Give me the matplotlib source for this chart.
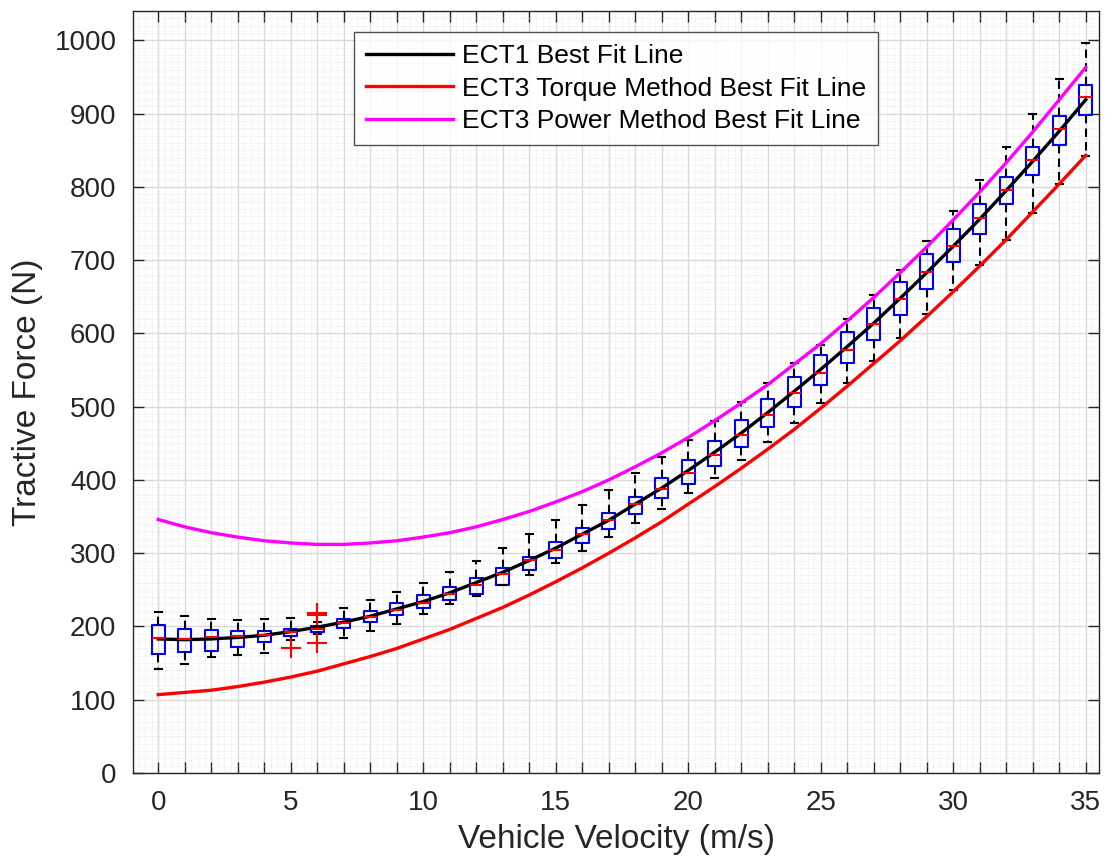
import matplotlib
matplotlib.use("Agg")
import matplotlib.pyplot as plt
import matplotlib.ticker as ticker
import numpy as np

plt.rcParams['font.family'] = ['Liberation Sans', 'DejaVu Sans']

# velocity bins (m/s)
velocity = list(range(36))

# box statistics (N)
whis_lo = [142, 149, 158, 161, 164, 181, 190, 184.5, 194, 204, 216.5, 230.5,
           242, 256, 270, 287, 303, 321.5, 340.6, 360, 381.6, 403, 427, 452,
           478, 505, 532.5, 562.5, 594.4, 626, 659, 693, 727, 765, 804.5, 841.7]
q1 = [163, 165, 167, 172, 179, 187, 193, 198, 206.5, 215.5, 224.7, 236,
      244, 257, 277, 293.7, 313.3, 332.4, 353, 374.7, 395, 419, 445, 472.5,
      499.8, 529, 559, 591.6, 624.8, 661, 697.6, 736, 776, 816.5, 856.8, 897.7]
medians = [184, 183, 185, 187, 188, 192, 197, 204.5, 213, 223, 232, 245,
           256.5, 272, 290.6, 304, 326, 345, 366.6, 388, 409.7, 434, 461, 489,
           518, 546.6, 578, 612.5, 647, 684, 719, 757.6, 796, 837, 879.5, 922.6]
q3 = [202, 196, 195, 194, 194, 197, 201, 210.5, 221, 232, 243, 254,
      265.6, 280, 295, 314.7, 333.8, 355, 377, 402, 427, 453, 481.6, 510,
      540.7, 570, 602, 635, 670, 708, 743, 777, 813.5, 854, 896.7, 939.5]
whis_hi = [220, 214, 210, 209, 210, 211, 206, 225.5, 236, 247, 260, 274.6,
           289, 306.5, 325.6, 345, 365.6, 386, 409, 431.5, 454, 480.6, 506.6,
           532.5, 559, 584, 620, 653, 686, 726, 767, 810, 854, 899, 947.7, 996]
outliers = {5: [170], 6: [216, 218, 177]}

# best fit lines (N) at each velocity
ect1_fit = [183, 182, 183, 185, 188, 193, 199, 206, 214, 224, 234, 246, 260,
            274, 290, 307, 326, 345, 367, 389, 413, 438, 464, 492, 521, 551,
            582, 614, 648, 683, 719, 756, 795, 835, 876, 919]
ect3_torque_fit = [107, 110, 113, 118, 124, 131, 139, 149, 159, 170, 183, 196,
                   211, 226, 243, 261, 280, 300, 321, 343, 367, 391, 416, 442,
                   469, 498, 528, 559, 590, 623, 657, 692, 728, 766, 804, 843]
ect3_power_fit = [346, 336, 328, 322, 317, 314, 312, 312, 314, 317, 322, 328,
                  336, 346, 357, 370, 384, 400, 418, 437, 458, 481, 505, 530,
                  558, 586, 617, 649, 683, 718, 755, 793, 833, 875, 919, 963]

stats = []
for i, v in enumerate(velocity):
    stats.append({'med': medians[i], 'q1': q1[i], 'q3': q3[i],
                  'whislo': whis_lo[i], 'whishi': whis_hi[i],
                  'fliers': outliers.get(v, [])})

fig = plt.figure(figsize=(11.06, 8.67), dpi=100)
ax = fig.add_axes([0.1203, 0.1084, 0.8734, 0.8789])

ax.bxp(stats, positions=velocity, widths=0.5, showfliers=True,
       boxprops=dict(color='blue', linewidth=1.5),
       medianprops=dict(color='red', linewidth=1.5),
       whiskerprops=dict(color='black', linewidth=1.5, linestyle=(0, (4, 2.5))),
       capprops=dict(color='black', linewidth=1.5),
       capwidths=0.25,
       flierprops=dict(marker='+', markeredgecolor='red', markersize=14,
                       markeredgewidth=1.5, linestyle='none'))

ax.plot(velocity, ect1_fit, color='black', linewidth=2.4, label='ECT1 Best Fit Line')
ax.plot(velocity, ect3_torque_fit, color='red', linewidth=2.4,
        label='ECT3 Torque Method Best Fit Line')
ax.plot(velocity, ect3_power_fit, color='magenta', linewidth=2.4,
        label='ECT3 Power Method Best Fit Line')

ax.set_xlim(-0.95, 35.5)
ax.set_ylim(0, 1040)
ax.xaxis.set_major_locator(ticker.FixedLocator(velocity))
ax.set_xticklabels([str(v) if v % 5 == 0 else '' for v in velocity])
ax.xaxis.set_minor_locator(ticker.MultipleLocator(0.25))
ax.yaxis.set_major_locator(ticker.MultipleLocator(100))
ax.yaxis.set_minor_locator(ticker.MultipleLocator(10))

ax.grid(which='major', color='#dadada', linewidth=1.0)
ax.grid(which='minor', color='#dcdcdc', linewidth=0.5, linestyle=':')
ax.set_axisbelow(True)

text_color = '#262626'
ax.tick_params(which='major', direction='in', length=8, width=1.0,
               top=True, right=True, labelsize=20, colors=text_color, pad=12)
ax.tick_params(which='minor', length=0)
for s in ax.spines.values():
    s.set_color(text_color)
    s.set_linewidth(1.0)

ax.set_xlabel('Vehicle Velocity (m/s)', fontsize=24, color=text_color, labelpad=6)
ax.set_ylabel('Tractive Force (N)', fontsize=24, color=text_color, labelpad=8)

leg = ax.legend(loc='upper center', bbox_to_anchor=(0.5, 0.9724), fontsize=19,
                frameon=True, fancybox=False, edgecolor=text_color,
                borderaxespad=0, handlelength=3.3, handletextpad=0.35,
                labelspacing=0.33, borderpad=0.45)
leg.get_frame().set_linewidth(1.0)

fig.savefig('out.png', dpi=100)
